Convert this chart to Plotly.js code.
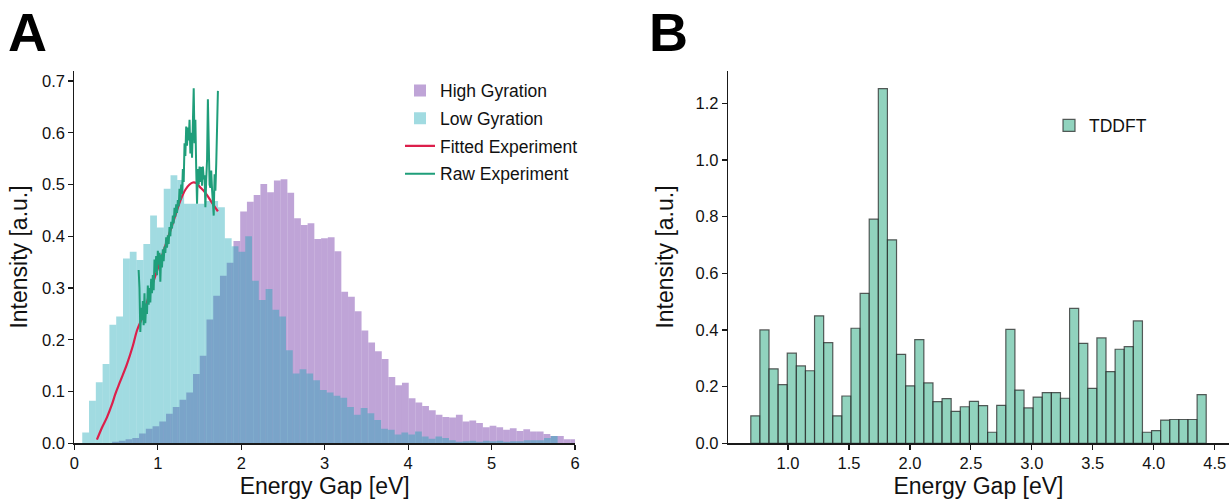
<!DOCTYPE html>
<html>
<head>
<meta charset="utf-8">
<script src="https://cdn.plot.ly/plotly-3.0.1.min.js"></script>
<style>
html,body{margin:0;padding:0;background:#fff;}
#chart{width:1229px;height:499px;}
</style>
</head>
<body>
<div id="chart"></div>
<script>
// ---------- Panel A data ----------
// Histogram bin layout (eV)
const highStart = 0.452, highWidth = 0.0808;
const lowStart = 0.094, lowWidth = 0.0814;

const highGyration = [
  0.003, 0.005, 0.008, 0.010, 0.019, 0.028, 0.033, 0.042, 0.057, 0.070,
  0.084, 0.098, 0.134, 0.169, 0.239, 0.285, 0.324, 0.349, 0.391, 0.448,
  0.467, 0.480, 0.501, 0.485, 0.508, 0.510, 0.484, 0.435, 0.422, 0.425,
  0.395, 0.396, 0.398, 0.371, 0.293, 0.283, 0.255, 0.218, 0.195, 0.178,
  0.163, 0.128, 0.112, 0.117, 0.087, 0.079, 0.072, 0.064, 0.055, 0.051,
  0.050, 0.055, 0.042, 0.044, 0.039, 0.031, 0.034, 0.031, 0.026, 0.029,
  0.024, 0.027, 0.023, 0.023, 0.018, 0.014, 0.014, 0.008, 0.008
];

const lowGyration = [
  0.021, 0.082, 0.118, 0.153, 0.229, 0.245, 0.357, 0.370, 0.354, 0.385,
  0.440, 0.417, 0.492, 0.518, 0.509, 0.463, 0.463, 0.463, 0.468, 0.468,
  0.456, 0.396, 0.381, 0.370, 0.400, 0.314, 0.277, 0.298, 0.258, 0.245,
  0.180, 0.135, 0.143, 0.135, 0.122, 0.103, 0.098, 0.092, 0.088, 0.070,
  0.055, 0.068, 0.058, 0.045, 0.028, 0.026, 0.017, 0.021, 0.017, 0.023,
  0.013, 0.009, 0.013, 0.010, 0.006, 0.003, 0.004, 0.005, 0.003, 0.005,
  0.004, 0.005, 0.003, 0.004, 0.004, 0.006, 0.006, 0.006, 0.010, 0.014
];

const fittedX = [0.27, 0.33, 0.39, 0.45, 0.49, 0.55, 0.63, 0.70, 0.75, 0.83,
  0.90, 0.99, 1.07, 1.15, 1.22, 1.27, 1.33, 1.38, 1.42, 1.46, 1.50, 1.55, 1.60, 1.66, 1.72];
const fittedY = [0.007, 0.030, 0.050, 0.075, 0.095, 0.120, 0.153, 0.188, 0.218, 0.250,
  0.290, 0.333, 0.372, 0.411, 0.445, 0.469, 0.490, 0.500, 0.504, 0.503, 0.496, 0.488, 0.477, 0.462, 0.448];

const rawX = [0.77, 0.78, 0.79, 0.80, 0.81, 0.82, 0.83, 0.84, 0.85, 0.86,
  0.87, 0.88, 0.89, 0.90, 0.91, 0.92, 0.93, 0.94, 0.95, 0.96,
  0.97, 0.98, 0.99, 1.00, 1.01, 1.02, 1.03, 1.04, 1.05, 1.06,
  1.07, 1.08, 1.09, 1.10, 1.11, 1.12, 1.13, 1.14, 1.15, 1.16,
  1.17, 1.18, 1.19, 1.20, 1.21, 1.22, 1.23, 1.24, 1.25, 1.26,
  1.27, 1.28, 1.29, 1.30, 1.31, 1.32, 1.33, 1.34, 1.35, 1.36,
  1.37, 1.38, 1.39, 1.40, 1.41, 1.42, 1.43, 1.44, 1.45, 1.46,
  1.47, 1.48, 1.49, 1.50, 1.51, 1.52, 1.53, 1.54, 1.55, 1.56,
  1.57, 1.58, 1.59, 1.60, 1.61, 1.62, 1.63, 1.64, 1.65, 1.66,
  1.67, 1.68, 1.69, 1.70, 1.71, 1.72];
const rawY = [0.335, 0.300, 0.215, 0.262, 0.238, 0.275, 0.228, 0.290, 0.232, 0.270,
  0.250, 0.305, 0.268, 0.300, 0.272, 0.318, 0.290, 0.325, 0.296, 0.355,
  0.330, 0.362, 0.325, 0.372, 0.345, 0.368, 0.312, 0.365, 0.340, 0.375,
  0.352, 0.380, 0.368, 0.398, 0.378, 0.402, 0.385, 0.418, 0.400, 0.428,
  0.415, 0.440, 0.425, 0.455, 0.438, 0.462, 0.445, 0.470, 0.458, 0.492,
  0.470, 0.500, 0.482, 0.530, 0.505, 0.580, 0.555, 0.612, 0.575, 0.610,
  0.585, 0.625, 0.560, 0.600, 0.552, 0.645, 0.686, 0.580, 0.625, 0.530,
  0.463, 0.530, 0.500, 0.535, 0.505, 0.534, 0.498, 0.535, 0.510, 0.518,
  0.456, 0.510, 0.548, 0.665, 0.560, 0.500, 0.494, 0.527, 0.490, 0.469,
  0.440, 0.520, 0.488, 0.540, 0.610, 0.681];

// ---------- Panel B data ----------
const tddftStart = 0.695, tddftWidth = 0.0747;
const tddft = [
  0.097, 0.400, 0.263, 0.207, 0.318, 0.273, 0.256, 0.450, 0.355, 0.097,
  0.167, 0.406, 0.529, 0.791, 1.252, 0.718, 0.314, 0.203, 0.366, 0.213,
  0.147, 0.158, 0.113, 0.129, 0.148, 0.133, 0.039, 0.134, 0.402, 0.188,
  0.125, 0.163, 0.179, 0.179, 0.159, 0.476, 0.353, 0.194, 0.372, 0.253,
  0.332, 0.341, 0.432, 0.039, 0.045, 0.082, 0.084, 0.084, 0.084, 0.172
];

function centers(start, width, n) {
  const out = [];
  for (let i = 0; i < n; i++) out.push(+(start + (i + 0.5) * width).toFixed(4));
  return out;
}

const FONT = 'Liberation Sans, Arial, Helvetica, sans-serif';
const AX = '#1a1a1a';

const traces = [
  {
    type: 'bar', name: 'High Gyration', legendgroup: 'g1',
    x: centers(highStart, highWidth, highGyration.length), y: highGyration,
    width: highWidth, xaxis: 'x', yaxis: 'y',
    marker: {color: 'rgba(148,103,189,0.6)', line: {width: 0}},
    hoverinfo: 'skip'
  },
  {
    type: 'bar', name: 'Low Gyration', legendgroup: 'g2',
    x: centers(lowStart, lowWidth, lowGyration.length), y: lowGyration,
    width: lowWidth, xaxis: 'x', yaxis: 'y',
    marker: {color: 'rgba(20,165,180,0.4)', line: {width: 0}},
    hoverinfo: 'skip'
  },
  {
    type: 'scatter', mode: 'lines', name: 'Fitted Experiment', legendgroup: 'g3',
    x: fittedX, y: fittedY, xaxis: 'x', yaxis: 'y',
    line: {color: '#dc1f4b', width: 2.2, shape: 'spline'},
    hoverinfo: 'skip'
  },
  {
    type: 'scatter', mode: 'lines', name: 'Raw Experiment', legendgroup: 'g4',
    x: rawX, y: rawY, xaxis: 'x', yaxis: 'y',
    line: {color: '#1f9e7a', width: 2},
    hoverinfo: 'skip'
  },
  {
    type: 'bar', name: 'TDDFT', legend: 'legend2',
    x: centers(tddftStart, tddftWidth, tddft.length), y: tddft,
    width: tddftWidth, xaxis: 'x2', yaxis: 'y2',
    marker: {color: 'rgba(102,194,165,0.72)', line: {color: 'rgba(40,40,40,0.75)', width: 1.2}},
    hoverinfo: 'skip'
  }
];

function axisBase() {
  return {
    showline: true, linecolor: AX, linewidth: 1.2,
    ticks: 'outside', ticklen: 5, tickwidth: 1.2, tickcolor: AX,
    showgrid: false, zeroline: false,
    tickfont: {family: FONT, size: 16.5, color: '#111'},
    fixedrange: true
  };
}

const yDom = [1 - 443.3 / 499, 1 - 70.7 / 499];
const TITLE_FONT = {family: FONT, size: 23, color: '#111'};

const layout = {
  width: 1229, height: 499,
  margin: {l: 0, r: 0, t: 0, b: 0},
  paper_bgcolor: '#fff', plot_bgcolor: 'rgba(0,0,0,0)',
  barmode: 'overlay',
  font: {family: FONT, color: '#111'},
  xaxis: Object.assign(axisBase(), {
    domain: [74.4 / 1229, 575 / 1229], range: [0, 6], tickmode: 'linear', tick0: 0, dtick: 1,
    anchor: 'y',
    title: {text: 'Energy Gap [eV]', font: TITLE_FONT, standoff: 11}
  }),
  yaxis: Object.assign(axisBase(), {
    domain: yDom, range: [0, 0.72], tickmode: 'linear', tick0: 0, dtick: 0.1, tickformat: '.1f',
    anchor: 'x',
    title: {text: 'Intensity [a.u.]', font: TITLE_FONT, standoff: 8}
  }),
  xaxis2: Object.assign(axisBase(), {
    domain: [728 / 1229, 1], range: [0.508, 4.617], tickmode: 'linear', tick0: 0.5, dtick: 0.5, tickformat: '.1f',
    anchor: 'y2',
    title: {text: 'Energy Gap [eV]', font: TITLE_FONT, standoff: 11}
  }),
  yaxis2: Object.assign(axisBase(), {
    domain: yDom, range: [0, 1.315], tickmode: 'linear', tick0: 0, dtick: 0.2, tickformat: '.1f',
    anchor: 'x2',
    title: {text: 'Intensity [a.u.]', font: TITLE_FONT, standoff: 15}
  }),
  legend: {
    x: 400 / 1229, y: 1 - 72.5 / 499, xanchor: 'left', yanchor: 'top',
    bgcolor: 'rgba(0,0,0,0)', borderwidth: 0,
    font: {family: FONT, size: 17.5, color: '#111'},
    traceorder: 'grouped', tracegroupgap: 2, itemwidth: 30
  },
  legend2: {
    x: 1049 / 1229, y: 1 - 107.5 / 499, xanchor: 'left', yanchor: 'top',
    bgcolor: 'rgba(0,0,0,0)', borderwidth: 0,
    font: {family: FONT, size: 17.5, color: '#111'}, itemwidth: 30
  },
  annotations: [
    {text: '<b>A</b>', xref: 'paper', yref: 'paper', x: 6 / 1229, y: 1,
     xanchor: 'left', yanchor: 'top', showarrow: false,
     font: {family: FONT, size: 54, color: '#000'}},
    {text: '<b>B</b>', xref: 'paper', yref: 'paper', x: 647 / 1229, y: 1,
     xanchor: 'left', yanchor: 'top', showarrow: false,
     font: {family: FONT, size: 54, color: '#000'}}
  ],
  showlegend: true
};

Plotly.newPlot('chart', traces, layout, {displayModeBar: false, staticPlot: true});
</script>
</body>
</html>
